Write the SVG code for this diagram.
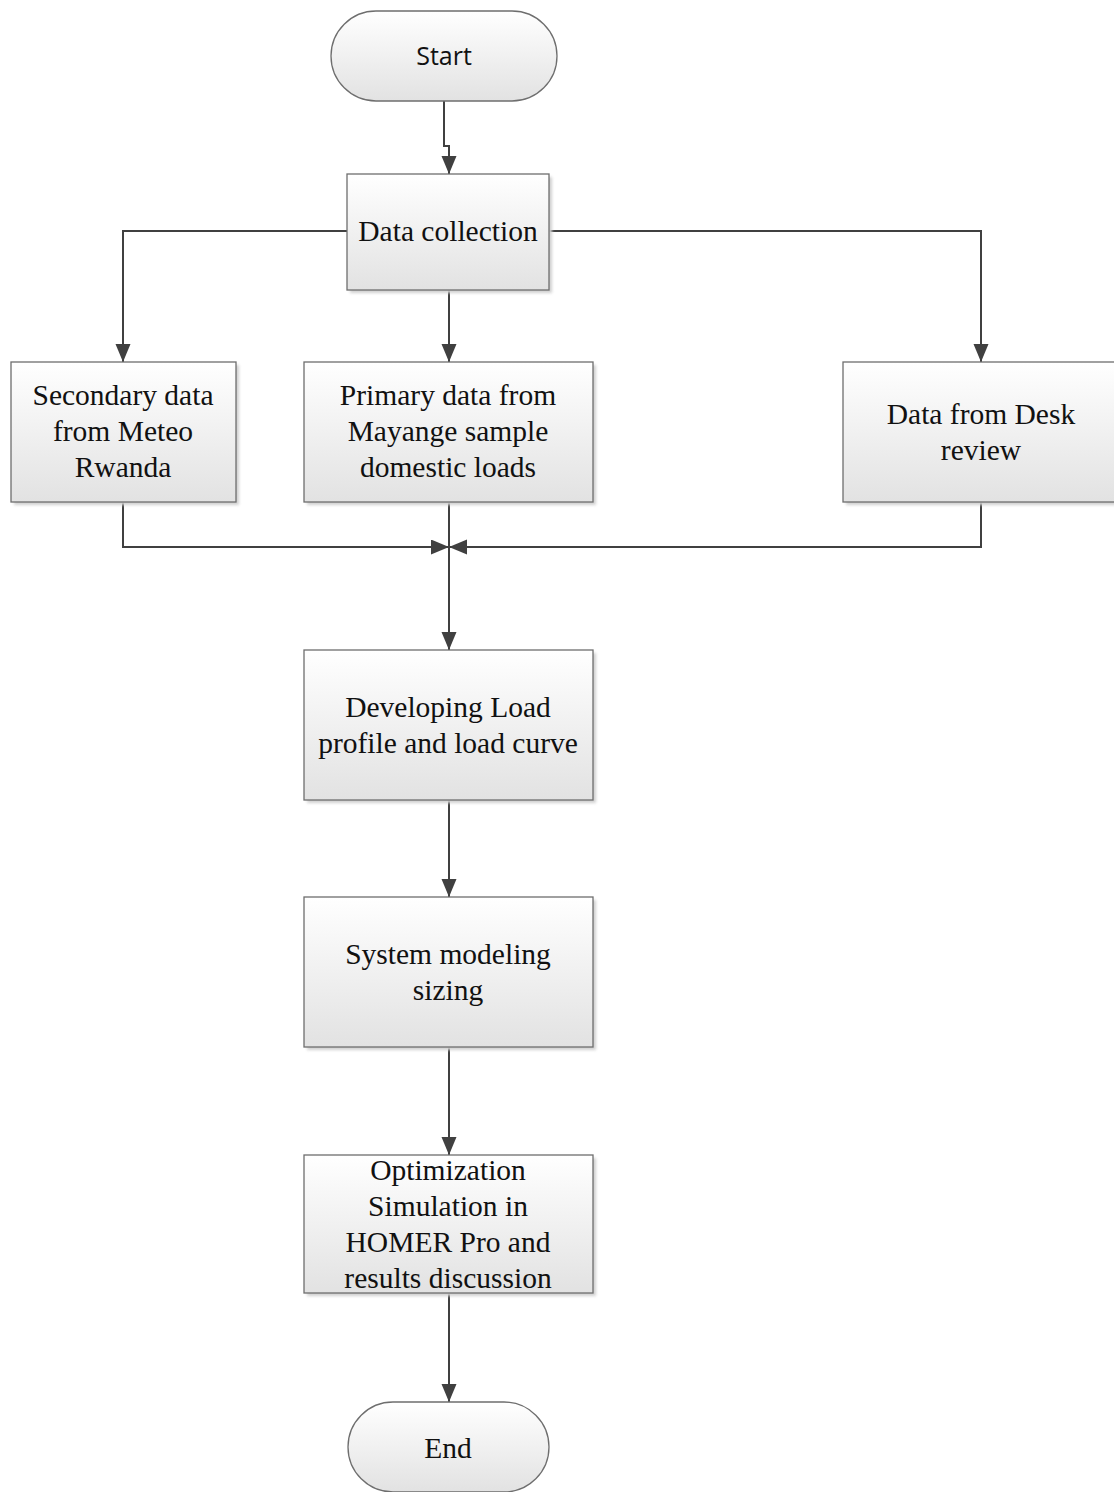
<svg xmlns="http://www.w3.org/2000/svg" width="1114" height="1492" viewBox="0 0 1114 1492">
<style>
.box{fill:url(#g);stroke:#6e6e6e;stroke-width:1.3}
.sh{fill:#d0d0d0}
.t{font-family:"Liberation Serif","Times New Roman",serif;font-size:29.5px;fill:#111;text-anchor:middle}
.s{font-family:"Open Sans","Noto Sans",sans-serif;font-size:25px;fill:#111;text-anchor:middle}
.c{fill:none;stroke:#404040;stroke-width:2}
</style>
<defs>
<linearGradient id="g" x1="0" y1="0" x2="0" y2="1">
<stop offset="0" stop-color="#ffffff"/>
<stop offset="1" stop-color="#e2e2e2"/>
</linearGradient>
<filter id="blur" x="-10%" y="-10%" width="130%" height="130%"><feGaussianBlur stdDeviation="1.5"/></filter>
<marker id="a" markerWidth="18" markerHeight="16" refX="18" refY="7.5" orient="auto" markerUnits="userSpaceOnUse">
<path d="M0,0 L18,7.5 L0,15 Z" fill="#404040"/>
</marker>
</defs>

<g id="connectors">
<path class="c" d="M444,101 V146 H449 V174" marker-end="url(#a)"/>
<path class="c" d="M347,231 H123 V362" marker-end="url(#a)"/>
<path class="c" d="M449,290 V362" marker-end="url(#a)"/>
<path class="c" d="M549,231 H981 V362" marker-end="url(#a)"/>
<path class="c" d="M123,502 V547 H449" marker-end="url(#a)"/>
<path class="c" d="M981,502 V547 H449" marker-end="url(#a)"/>
<path class="c" d="M449,502 V650" marker-end="url(#a)"/>
<path class="c" d="M449,800 V897" marker-end="url(#a)"/>
<path class="c" d="M449,1047 V1155" marker-end="url(#a)"/>
<path class="c" d="M449,1293 V1402" marker-end="url(#a)"/>
</g>

<g id="start">
<rect x="331" y="11" width="226" height="90" rx="45" ry="45" class="box"/>
<text x="444" y="65" class="s">Start</text>
</g>

<g id="data-collection">
<rect x="350" y="177" width="202" height="116" class="sh" filter="url(#blur)"/>
<rect x="347" y="174" width="202" height="116" class="box"/>
<text x="448" y="241" class="t">Data collection</text>
</g>

<g id="secondary">
<rect x="14" y="365" width="225" height="140" class="sh" filter="url(#blur)"/>
<rect x="11" y="362" width="225" height="140" class="box"/>
<text class="t"><tspan x="123" y="405">Secondary data</tspan><tspan x="123" y="441">from Meteo</tspan><tspan x="123" y="477">Rwanda</tspan></text>
</g>

<g id="primary">
<rect x="307" y="365" width="289" height="140" class="sh" filter="url(#blur)"/>
<rect x="304" y="362" width="289" height="140" class="box"/>
<text class="t"><tspan x="448" y="405">Primary data from</tspan><tspan x="448" y="441">Mayange sample</tspan><tspan x="448" y="477">domestic loads</tspan></text>
</g>

<g id="desk">
<rect x="846" y="365" width="275" height="140" class="sh" filter="url(#blur)"/>
<rect x="843" y="362" width="275" height="140" class="box"/>
<text class="t"><tspan x="981" y="424">Data from Desk</tspan><tspan x="981" y="460">review</tspan></text>
</g>

<g id="load-profile">
<rect x="307" y="653" width="289" height="150" class="sh" filter="url(#blur)"/>
<rect x="304" y="650" width="289" height="150" class="box"/>
<text class="t"><tspan x="448" y="717">Developing Load</tspan><tspan x="448" y="753">profile and load curve</tspan></text>
</g>

<g id="system-modeling">
<rect x="307" y="900" width="289" height="150" class="sh" filter="url(#blur)"/>
<rect x="304" y="897" width="289" height="150" class="box"/>
<text class="t"><tspan x="448" y="964">System modeling</tspan><tspan x="448" y="1000">sizing</tspan></text>
</g>

<g id="optimization">
<rect x="307" y="1158" width="289" height="138" class="sh" filter="url(#blur)"/>
<rect x="304" y="1155" width="289" height="138" class="box"/>
<text class="t"><tspan x="448" y="1180">Optimization</tspan><tspan x="448" y="1216">Simulation in</tspan><tspan x="448" y="1252">HOMER Pro and</tspan><tspan x="448" y="1288">results discussion</tspan></text>
</g>

<g id="end">
<rect x="348" y="1402" width="201" height="90" rx="45" ry="45" class="box"/>
<text x="448" y="1458" class="t">End</text>
</g>
</svg>
